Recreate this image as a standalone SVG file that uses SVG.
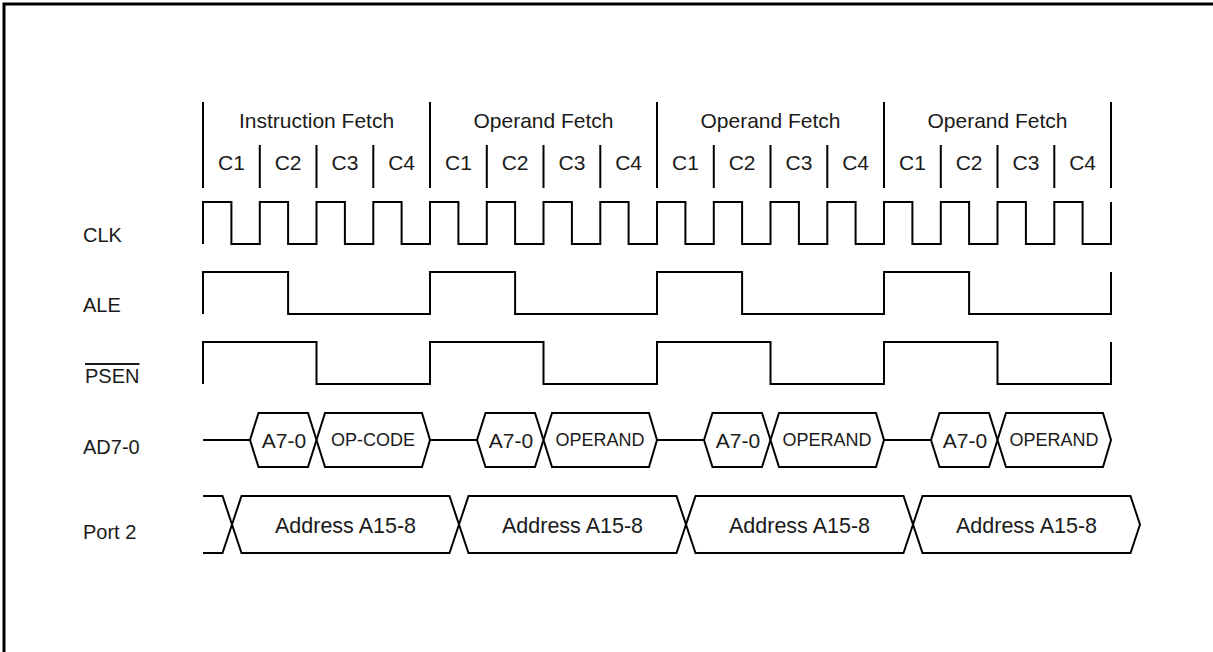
<svg xmlns="http://www.w3.org/2000/svg" width="1213" height="652" viewBox="0 0 1213 652">
<style>
.w{fill:none;stroke:#000;stroke-width:2;stroke-linejoin:miter}
.hx{fill:#fff;stroke:#000;stroke-width:2}
.t{font-family:"Liberation Sans",Arial,sans-serif;font-size:21px;fill:#1a1a1a}
.lb{font-family:"Liberation Sans",Arial,sans-serif;font-size:20px;fill:#1a1a1a}
.m{text-anchor:middle}
.a{font-family:"Liberation Sans",Arial,sans-serif;font-size:21.5px;fill:#1a1a1a;text-anchor:middle}
.s{font-family:"Liberation Sans",Arial,sans-serif;font-size:18px;fill:#1a1a1a;text-anchor:middle}
</style>
<rect width="1213" height="652" fill="#fff"/>
<path d="M4,652 V4 H1213" fill="none" stroke="#000" stroke-width="3"/>

<g id="header">
<path class="w" d="M203,102 V188 M430,102 V188 M657,102 V188 M884,102 V188 M1111,102 V188 M259.8,145 V188 M316.5,145 V188 M373.3,145 V188 M486.8,145 V188 M543.5,145 V188 M600.3,145 V188 M713.8,145 V188 M770.5,145 V188 M827.3,145 V188 M940.8,145 V188 M997.5,145 V188 M1054.3,145 V188"/>
<g class="t m">
<text x="316.5" y="128">Instruction Fetch</text>
<text x="543.5" y="128">Operand Fetch</text>
<text x="770.5" y="128">Operand Fetch</text>
<text x="997.5" y="128">Operand Fetch</text>
<text x="231.4" y="170">C1</text><text x="288.1" y="170">C2</text><text x="344.9" y="170">C3</text><text x="401.6" y="170">C4</text>
<text x="458.4" y="170">C1</text><text x="515.1" y="170">C2</text><text x="571.9" y="170">C3</text><text x="628.6" y="170">C4</text>
<text x="685.4" y="170">C1</text><text x="742.1" y="170">C2</text><text x="798.9" y="170">C3</text><text x="855.6" y="170">C4</text>
<text x="912.4" y="170">C1</text><text x="969.1" y="170">C2</text><text x="1025.9" y="170">C3</text><text x="1082.6" y="170">C4</text>
</g>
</g>

<g id="labels" class="lb">
<text x="83" y="242">CLK</text>
<text x="83" y="312">ALE</text>
<text x="85" y="383" text-decoration="overline">PSEN</text>
<text x="83" y="454">AD7-0</text>
<text x="83" y="539">Port 2</text>
</g>

<g id="connectors">
<path id="clk" class="w" d="M203,244 V202 H231.4 V244 H259.8 V202 H288.1 V244 H316.5 V202 H344.9 V244 H373.3 V202 H401.6 V244 H430 V202 H458.4 V244 H486.8 V202 H515.1 V244 H543.5 V202 H571.9 V244 H600.3 V202 H628.6 V244 H657 V202 H685.4 V244 H713.8 V202 H742.1 V244 H770.5 V202 H798.9 V244 H827.3 V202 H855.6 V244 H884 V202 H912.4 V244 H940.8 V202 H969.1 V244 H997.5 V202 H1025.9 V244 H1054.3 V202 H1082.6 V244 H1111 V202"/>
<path id="ale" class="w" d="M203,314 V272 H288.1 V314 H430 V272 H515.1 V314 H657 V272 H742.1 V314 H884 V272 H969.1 V314 H1111 V272"/>
<path id="psen" class="w" d="M203,384 V342 H316.5 V384 H430 V342 H543.5 V384 H657 V342 H770.5 V384 H884 V342 H997.5 V384 H1111 V342"/>
<path id="ad-bus" class="w" d="M203,440 H250 M430,440 H477 M657,440 H704 M884,440 H931"/>
<path id="p2-start" class="w" d="M203,496 H222.5 L232,524.5 L222.5,553 H203"/>
</g>

<g id="ad-c1">
<path class="hx" d="M250,440 L258.5,413 H308 L316.5,440 L308,467 H258.5 Z"/>
<path class="hx" d="M316.5,440 L325,413 H422 L430,440 L422,467 H325 Z"/>
<text class="t m" x="284" y="448">A7-0</text>
<text class="s" x="373" y="446">OP-CODE</text>
</g>
<g id="ad-c2">
<path class="hx" d="M477,440 L485.5,413 H535 L543.5,440 L535,467 H485.5 Z"/>
<path class="hx" d="M543.5,440 L552,413 H649 L657,440 L649,467 H552 Z"/>
<text class="t m" x="511" y="448">A7-0</text>
<text class="s" x="600" y="446">OPERAND</text>
</g>
<g id="ad-c3">
<path class="hx" d="M704,440 L712.5,413 H762 L770.5,440 L762,467 H712.5 Z"/>
<path class="hx" d="M770.5,440 L779,413 H876 L884,440 L876,467 H779 Z"/>
<text class="t m" x="738" y="448">A7-0</text>
<text class="s" x="827" y="446">OPERAND</text>
</g>
<g id="ad-c4">
<path class="hx" d="M931,440 L939.5,413 H989 L997.5,440 L989,467 H939.5 Z"/>
<path class="hx" d="M997.5,440 L1006,413 H1103 L1111,440 L1103,467 H1006 Z"/>
<text class="t m" x="965" y="448">A7-0</text>
<text class="s" x="1054" y="446">OPERAND</text>
</g>

<g id="p2-c1">
<path class="hx" d="M232,524.5 L241.5,496 H449.5 L459,524.5 L449.5,553 H241.5 Z"/>
<text class="a" x="345.5" y="533">Address A15-8</text>
</g>
<g id="p2-c2">
<path class="hx" d="M459,524.5 L468.5,496 H676.5 L686,524.5 L676.5,553 H468.5 Z"/>
<text class="a" x="572.5" y="533">Address A15-8</text>
</g>
<g id="p2-c3">
<path class="hx" d="M686,524.5 L695.5,496 H903.5 L913,524.5 L903.5,553 H695.5 Z"/>
<text class="a" x="799.5" y="533">Address A15-8</text>
</g>
<g id="p2-c4">
<path class="hx" d="M913,524.5 L922.5,496 H1130.5 L1140,524.5 L1130.5,553 H922.5 Z"/>
<text class="a" x="1026.5" y="533">Address A15-8</text>
</g>
</svg>
